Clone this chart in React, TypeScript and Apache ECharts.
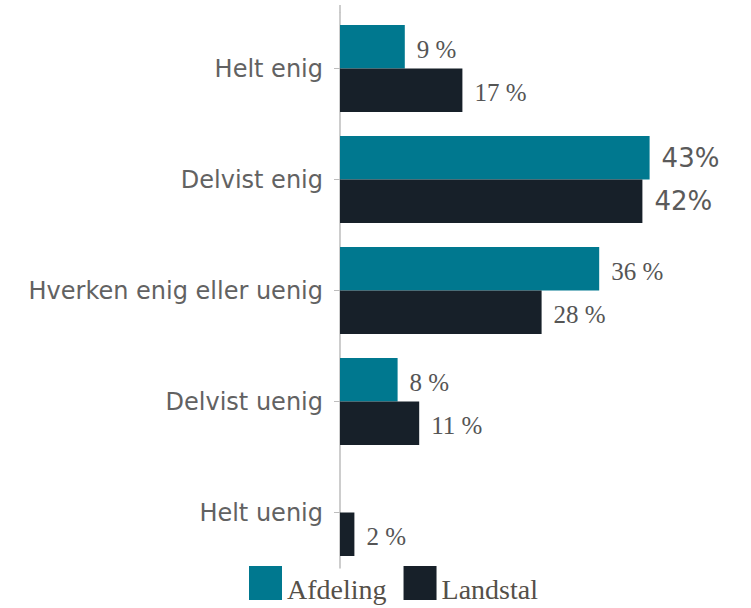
import React, { useEffect, useRef } from "react";
import * as echarts from "echarts";

const categories = ["Helt enig", "Delvist enig", "Hverken enig eller uenig", "Delvist uenig", "Helt uenig"];
const afdeling: (number | null)[] = [9, 43, 36, 8, null];
const landstal: (number | null)[] = [17, 42, 28, 11, 2];
const seriesNames = ["Afdeling", "Landstal"];
const colors = ["#00788f", "#172029"];

const labelFormatter = (p: any) => {
  if (p.value == null) return "";
  if (p.dataIndex === 1) return `{sans|${p.value}%}`;
  return `{serif|${p.value} %}`;
};

const labelCfg = {
  show: true,
  position: "right",
  distance: 12,
  formatter: labelFormatter,
  rich: {
    sans: { fontFamily: "DejaVu Sans", fontSize: 26, color: "#5a5a5a" },
    serif: { fontFamily: "Liberation Serif", fontSize: 25, color: "#555555", padding: [5, 0, 0, 0] },
  },
};

export default function App() {
  const ref = useRef<HTMLDivElement>(null);
  useEffect(() => {
    if (!ref.current) return;
    const chart = echarts.init(ref.current, null, { renderer: "svg" });
    chart.setOption({
      animation: false,
      backgroundColor: "#ffffff",
      grid: { left: 340, width: 360, top: 13, bottom: 40, containLabel: false },
      graphic: [
        {
          type: "line",
          shape: { x1: 340, y1: 5, x2: 340, y2: 13 },
          style: { stroke: "#bdbdbd", lineWidth: 1.5 },
          silent: true,
        },
      ],
      legend: {
        data: seriesNames,
        left: 249,
        top: 566,
        padding: 0,
        itemWidth: 33,
        itemHeight: 34,
        itemGap: 17,
        icon: "rect",
        formatter: (name: string) => `{t|${name}}`,
        textStyle: {
          fontFamily: "Liberation Serif",
          fontSize: 28,
          color: "#555049",
          rich: {
            t: {
              fontFamily: "Liberation Serif",
              fontSize: 28,
              color: "#555049",
              padding: [12, 0, 0, 0],
            },
          },
        },
      },
      xAxis: {
        type: "value",
        min: 0,
        max: 50,
        show: false,
      },
      yAxis: {
        type: "category",
        data: categories,
        inverse: true,
        axisLine: { show: true, lineStyle: { color: "#bdbdbd", width: 1.5 } },
        axisTick: { show: true, alignWithLabel: true, length: 6, lineStyle: { color: "#bdbdbd" } },
        axisLabel: {
          margin: 17,
          fontFamily: "DejaVu Sans",
          fontSize: 24,
          color: "#626262",
        },
      },
      series: [
        {
          name: seriesNames[0],
          type: "bar",
          data: afdeling,
          barWidth: 43.5,
          barGap: "0%",
          itemStyle: { color: colors[0] },
          label: labelCfg,
        },
        {
          name: seriesNames[1],
          type: "bar",
          data: landstal,
          barWidth: 43.5,
          barGap: "0%",
          itemStyle: { color: colors[1] },
          label: labelCfg,
        },
      ],
    });
    return () => chart.dispose();
  }, []);
  return (
    <div
      ref={ref}
      style={{ position: "fixed", left: 0, top: 0, width: 751, height: 608, background: "#fff" }}
    />
  );
}
